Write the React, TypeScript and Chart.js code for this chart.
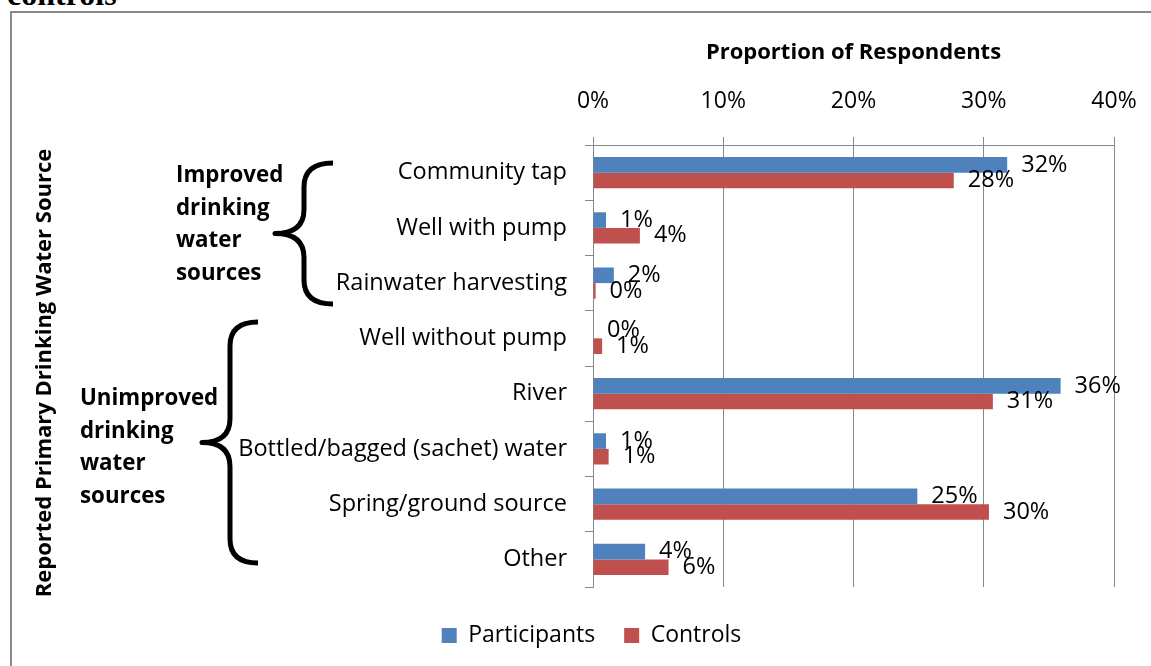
import React, { useEffect, useRef } from "react";
import { Chart, registerables } from "chart.js";

Chart.register(...registerables);

const categories = [
  "Community tap",
  "Well with pump",
  "Rainwater harvesting",
  "Well without pump",
  "River",
  "Bottled/bagged (sachet) water",
  "Spring/ground source",
  "Other",
];
const participants = [31.8, 1.0, 1.6, 0, 35.9, 1.0, 24.9, 4.0];
const controls = [27.7, 3.6, 0.2, 0.7, 30.7, 1.2, 30.4, 5.8];
const xTickValues = [0, 10, 20, 30, 40];
const seriesNames = ["Participants", "Controls"];
const seriesColors = ["#4F81BD", "#C0504D"];
const groupImproved = ["Improved", "drinking", "water", "sources"];
const groupUnimproved = ["Unimproved", "drinking", "water", "sources"];
const xAxisTitle = "Proportion of Respondents";
const yAxisTitle = "Reported Primary Drinking Water Source";

const FONT = "'Open Sans', 'Noto Sans', sans-serif";
const GRID = "#878787";
const PAD_L = 69;
const PAD_R = 37;

function drawBrace(
  ctx: CanvasRenderingContext2D,
  xEnd: number,
  xV: number,
  xTip: number,
  yTop: number,
  yBot: number,
  r: number
) {
  const yTip = (yTop + yBot) / 2;
  ctx.beginPath();
  ctx.moveTo(xEnd, yTop);
  ctx.quadraticCurveTo(xV, yTop, xV, yTop + r);
  ctx.lineTo(xV, yTip - r);
  ctx.quadraticCurveTo(xV, yTip, xTip, yTip);
  ctx.quadraticCurveTo(xV, yTip, xV, yTip + r);
  ctx.lineTo(xV, yBot - r);
  ctx.quadraticCurveTo(xV, yBot, xEnd, yBot);
  ctx.stroke();
}

const annotationPlugin = {
  id: "annotationPlugin",
  afterDatasetsDraw(chart: any) {
    const ctx: CanvasRenderingContext2D = chart.ctx;
    ctx.save();
    // data labels
    ctx.font = `23.5px ${FONT}`;
    ctx.fillStyle = "#000";
    ctx.textBaseline = "middle";
    ctx.textAlign = "left";
    chart.data.datasets.forEach((ds: any, di: number) => {
      const meta = chart.getDatasetMeta(di);
      meta.data.forEach((bar: any, i: number) => {
        ctx.fillText(Math.round(ds.data[i]) + "%", bar.x + 14, bar.y);
      });
    });

    // group labels
    ctx.font = `bold 22.3px ${FONT}`;
    ctx.textBaseline = "alphabetic";
    groupImproved.forEach((t, i) => ctx.fillText(t, 176, 182 + i * 32.7));
    groupUnimproved.forEach((t, i) => ctx.fillText(t, 80, 405 + i * 32.7));

    // braces
    ctx.strokeStyle = "#000";
    ctx.lineWidth = 5;
    ctx.lineCap = "butt";
    ctx.lineJoin = "round";
    drawBrace(ctx, 333, 304, 275, 163, 304, 24);
    drawBrace(ctx, 258, 230, 202, 322, 563, 24);

    // rotated y-axis title
    ctx.font = `bold 22px ${FONT}`;
    ctx.textAlign = "center";
    ctx.textBaseline = "middle";
    ctx.translate(45, 373);
    ctx.rotate(-Math.PI / 2);
    ctx.fillText(yAxisTitle, 0, 0);
    ctx.restore();
  },
};

export default function App() {
  const ref = useRef<HTMLCanvasElement | null>(null);

  useEffect(() => {
    if (!ref.current) return;
    const chart = new Chart(ref.current, {
      type: "bar",
      data: {
        labels: categories,
        datasets: [
          {
            label: seriesNames[0],
            data: participants,
            backgroundColor: seriesColors[0],
            borderWidth: 0,
          },
          {
            label: seriesNames[1],
            data: controls,
            backgroundColor: seriesColors[1],
            borderWidth: 0,
          },
        ],
      },
      options: {
        indexAxis: "y",
        responsive: false,
        animation: false,
        datasets: {
          bar: { categoryPercentage: 0.565, barPercentage: 1 },
        },
        layout: { padding: { left: PAD_L, right: PAD_R, top: 20, bottom: 9 } },
        scales: {
          x: {
            position: "top",
            min: 0,
            max: 40,
            afterBuildTicks: (scale: any) => {
              scale.ticks = xTickValues.map((v) => ({ value: v }));
            },
            afterFit: (scale: any) => {
              scale.height = 125;
            },
            ticks: {
              padding: 0,
              color: "#000",
              font: { family: FONT, size: 23, lineHeight: 3.07 },
              callback: (v: any) => v + "%",
            },
            grid: { color: GRID, lineWidth: 1, tickLength: 8, drawTicks: true },
            border: { color: GRID, width: 1 },
            title: {
              display: true,
              text: xAxisTitle,
              color: "#000",
              font: { family: FONT, size: 22, weight: "bold" },
              padding: { top: 20, bottom: 0 },
            },
          },
          y: {
            afterFit: (scale: any) => {
              scale.width = 593 - PAD_L;
            },
            ticks: {
              padding: 18,
              color: "#000",
              font: { family: FONT, size: 23.5 },
            },
            grid: {
              drawOnChartArea: false,
              drawTicks: true,
              tickLength: 8,
              color: GRID,
              offset: true,
            },
            border: { color: GRID, width: 1 },
          },
        },
        plugins: {
          legend: {
            position: "bottom",
            title: {
              display: true,
              text: " ",
              font: { size: 8, lineHeight: 1 },
              padding: 0,
            },
            labels: {
              boxWidth: 15,
              boxHeight: 15,
              padding: 29,
              color: "#000",
              font: { family: FONT, size: 23 },
            },
          },
          tooltip: { enabled: false },
        },
      },
      plugins: [annotationPlugin],
    } as any);
    return () => chart.destroy();
  }, []);

  return (
    <div
      style={{
        position: "fixed",
        left: 0,
        top: 0,
        width: 1151,
        height: 666,
        overflow: "hidden",
        background: "#fff",
      }}
    >
      <div
        style={{
          position: "absolute",
          left: 7,
          top: -22,
          fontFamily: "'Liberation Serif', 'Times New Roman', serif",
          fontWeight: "bold",
          fontSize: 32,
          lineHeight: "32px",
          color: "#000",
        }}
      >
        controls
      </div>
      <div
        style={{
          position: "absolute",
          left: 10,
          top: 11,
          width: 1151,
          height: 700,
          borderLeft: "2px solid #8a8a8a",
          borderTop: "2px solid #8a8a8a",
        }}
      />
      <canvas
        ref={ref}
        width={1151}
        height={666}
        style={{ position: "absolute", left: 0, top: 0 }}
      />
    </div>
  );
}
